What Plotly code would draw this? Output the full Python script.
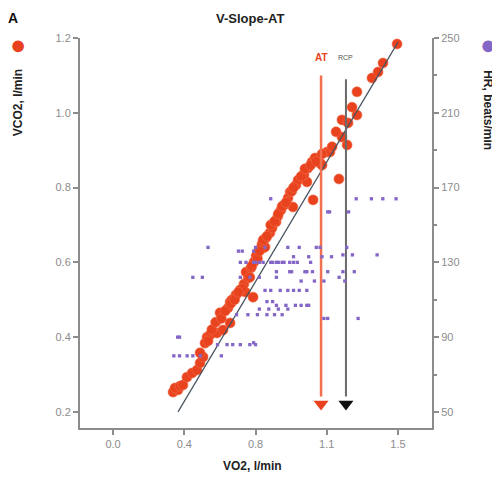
import plotly.graph_objects as go

# ---------------- data ----------------
red_vo2 = [0.316, 0.342, 0.326, 0.353, 0.368, 0.389, 0.416, 0.442, 0.458, 0.474,
           0.458, 0.484, 0.495, 0.511, 0.547, 0.579, 0.616, 0.563, 0.605, 0.616,
           0.626, 0.647, 0.695, 0.668, 0.737, 0.689, 0.711, 0.700, 0.726, 0.742,
           0.753, 0.768, 0.789, 0.800, 0.784, 0.805, 0.826, 0.837, 0.858, 0.868,
           0.884, 0.947, 0.900, 0.921, 0.932, 0.963, 0.974, 1.021, 1.053, 1.005,
           1.026, 1.047, 1.089, 1.100, 1.063, 1.126, 1.142, 1.153, 1.189, 1.232,
           1.205, 1.174, 1.205, 1.237, 1.284, 1.258, 1.284, 1.363, 1.395, 1.421,
           1.495,
           0.68, 0.72, 0.73, 0.76, 0.77, 0.79, 0.81, 0.83, 0.85, 0.87, 0.89, 0.91,
           0.94, 0.95, 0.99, 1.01, 1.04, 1.07, 1.10,
           0.50, 0.52, 0.54, 0.57, 0.59, 0.62, 0.64, 0.66]
red_vco2 = [0.253, 0.259, 0.264, 0.269, 0.272, 0.293, 0.304, 0.312, 0.331, 0.347,
            0.358, 0.384, 0.400, 0.406, 0.411, 0.419, 0.438, 0.465, 0.478, 0.494,
            0.500, 0.513, 0.521, 0.526, 0.507, 0.542, 0.558, 0.574, 0.585, 0.601,
            0.617, 0.633, 0.638, 0.641, 0.649, 0.665, 0.679, 0.692, 0.708, 0.724,
            0.740, 0.748, 0.753, 0.772, 0.788, 0.807, 0.820, 0.815, 0.767, 0.834,
            0.852, 0.868, 0.866, 0.860, 0.879, 0.895, 0.895, 0.909, 0.823, 0.914,
            0.935, 0.949, 0.981, 0.973, 0.994, 1.015, 1.056, 1.093, 1.109, 1.133,
            1.184,
            0.53, 0.56, 0.59, 0.61, 0.63, 0.66, 0.67, 0.70, 0.71, 0.73, 0.75, 0.76,
            0.79, 0.80, 0.83, 0.85, 0.86, 0.87, 0.89,
            0.39, 0.42, 0.44, 0.45, 0.47, 0.49, 0.50, 0.52]

hr_vo2 = [0.83, 1.28, 1.36, 1.42, 1.49,
          1.13, 1.14, 1.24,
          0.50, 0.75, 0.80, 0.92, 0.98, 1.07, 1.09, 1.23,
          0.66, 0.68, 0.74,
          0.95, 1.03, 1.10, 1.15,
          1.21, 1.26, 1.39,
          0.67, 0.70, 0.74, 0.75, 0.77, 0.79, 0.83, 0.84, 0.86, 0.87, 0.89, 0.90, 0.93, 0.95, 0.97, 1.04,
          0.86, 0.93, 0.94, 1.01, 1.02, 1.05, 1.13, 1.21, 1.27,
          0.42, 0.47, 0.67, 0.72, 0.77, 0.86, 1.19,
          0.99, 1.06, 1.11, 1.22,
          0.80, 0.83, 0.88, 0.92, 0.95, 0.98, 1.02,
          0.81, 0.84,
          0.86, 0.91, 0.96, 0.99, 1.02, 1.03,
          0.77, 0.82, 0.87, 0.92,
          0.65, 0.71, 0.76, 0.81, 0.85, 0.89,
          1.11, 1.13, 1.29,
          0.34, 0.35,
          0.55, 0.60, 0.63, 0.67, 0.72, 0.75,
          0.74,
          0.32, 0.35, 0.39, 0.42, 0.46, 0.57]
hr_bpm = [164, 164, 164, 164, 164,
          157, 157, 157,
          138, 138, 138, 138, 138, 138, 138, 138,
          136, 136, 136,
          133, 133, 133, 133,
          134, 134, 134,
          130, 130, 130, 130, 130, 130, 130, 130, 130, 130, 130, 130, 130, 130, 130, 130,
          125, 125, 125, 125, 125, 125, 125, 125, 125,
          122, 122, 122, 122, 122, 122, 122,
          120, 120, 120, 120,
          115, 115, 115, 115, 115, 115, 115,
          109, 109,
          107, 107, 107, 107, 107, 107,
          105, 105, 105, 105,
          102, 102, 102, 102, 102, 102,
          100, 100, 100,
          90, 90,
          86, 86, 86, 86, 86, 86,
          87,
          80, 80, 80, 80, 80, 80]

fit_vo2 = [0.342, 1.50]
fit_vco2 = [0.200, 1.189]

at_vo2 = 1.095
rcp_vo2 = 1.226
arrow_top = 1.10
arrow_tip = 0.221

x_tickvals = [0.0, 0.375, 0.75, 1.125, 1.5]
x_ticktext = ["0.0", "0.4", "0.8", "1.1", "1.5"]
y_tickvals = [0.2, 0.4, 0.6, 0.8, 1.0, 1.2]
y_ticktext = ["0.2", "0.4", "0.6", "0.8", "1.0", "1.2"]
hr_tickvals = [50, 90, 130, 170, 210, 250]
hr_minor = [70, 110, 150, 190, 230]

# ---------------- styles ----------------
RED = "#e8431e"
PURPLE = "#8466c6"
AX = "#8c8c8c"
FONT = "Liberation Sans, Arial, sans-serif"

fig = go.Figure()

fig.add_trace(go.Scatter(x=hr_vo2, y=hr_bpm, yaxis="y2", mode="markers",
                         marker=dict(symbol="square", size=3.3, color=PURPLE),
                         showlegend=False, hoverinfo="skip"))
fig.add_trace(go.Scatter(x=red_vo2, y=red_vco2, mode="markers",
                         marker=dict(size=10, color=RED, line=dict(width=0.6, color="#f26a48")),
                         showlegend=False, hoverinfo="skip"))
fig.add_trace(go.Scatter(x=fit_vo2, y=fit_vco2, mode="lines",
                         line=dict(color="#46525e", width=1.2),
                         showlegend=False, hoverinfo="skip"))

# threshold arrows
fig.add_trace(go.Scatter(x=[at_vo2, at_vo2], y=[arrow_top, arrow_tip + 0.02], mode="lines",
                         line=dict(color="#f07050", width=2.5), showlegend=False, hoverinfo="skip"))
fig.add_trace(go.Scatter(x=[at_vo2], y=[arrow_tip], mode="markers",
                         marker=dict(symbol="triangle-down", size=13, color=RED),
                         showlegend=False, hoverinfo="skip"))
fig.add_trace(go.Scatter(x=[rcp_vo2, rcp_vo2], y=[arrow_top - 0.01, arrow_tip + 0.02], mode="lines",
                         line=dict(color="#6a6a6a", width=2), showlegend=False, hoverinfo="skip"))
fig.add_trace(go.Scatter(x=[rcp_vo2], y=[arrow_tip], mode="markers",
                         marker=dict(symbol="triangle-down", size=13, color="#111111"),
                         showlegend=False, hoverinfo="skip"))

axis_common = dict(showline=True, linecolor=AX, linewidth=2, ticks="outside",
                   ticklen=5, tickcolor=AX, tickwidth=1.5, showgrid=False, zeroline=False,
                   tickfont=dict(family=FONT, size=11, color=AX))


def note(text, x, y, size, color, angle=0, xref="paper", yref="paper"):
    return dict(text=text, x=x, y=y, xref=xref, yref=yref, xanchor="center", yanchor="middle",
                textangle=angle, showarrow=False, font=dict(size=size, color=color))


# the page body has an 8px margin, so the figure is 8px smaller with 8px less margin
fig.update_layout(
    width=492, height=469,
    margin=dict(l=72, r=68, t=30, b=49),
    paper_bgcolor="white", plot_bgcolor="white",
    font=dict(family=FONT),
    xaxis=dict(range=[-0.174, 1.679], tickvals=x_tickvals, ticktext=x_ticktext, **axis_common),
    yaxis=dict(range=[0.157, 1.2], tickvals=y_tickvals, ticktext=y_ticktext, **axis_common),
    yaxis2=dict(range=[41.4, 250], overlaying="y", side="right", tickvals=hr_tickvals,
                minor=dict(tickvals=hr_minor, ticklen=3, ticks="outside", tickcolor=AX),
                **axis_common),
    annotations=[
        note("<b>V-Slope-AT</b>", 0.483, 1.051, 13, "#222222"),
        note("<b>A</b>", -0.19, 1.051, 14, "#111111"),
        note("<b>VCO2, l/min</b>", -0.176, 0.833, 12, "#222222", angle=-90),
        note("●", -0.176, 0.982, 27, RED),
        note("<b>HR, beats/min</b>", 1.159, 0.815, 12, "#222222", angle=90),
        note("●", 1.159, 0.982, 27, PURPLE),
        note("<b>VO2, l/min</b>", 0.489, -0.097, 12, "#222222"),
        note("<b>AT</b>", at_vo2, 1.149, 10, RED, xref="x", yref="y"),
        note("RCP", rcp_vo2, 1.147, 7, "#555555", xref="x", yref="y"),
    ],
)

fig.write_html("out.html")
